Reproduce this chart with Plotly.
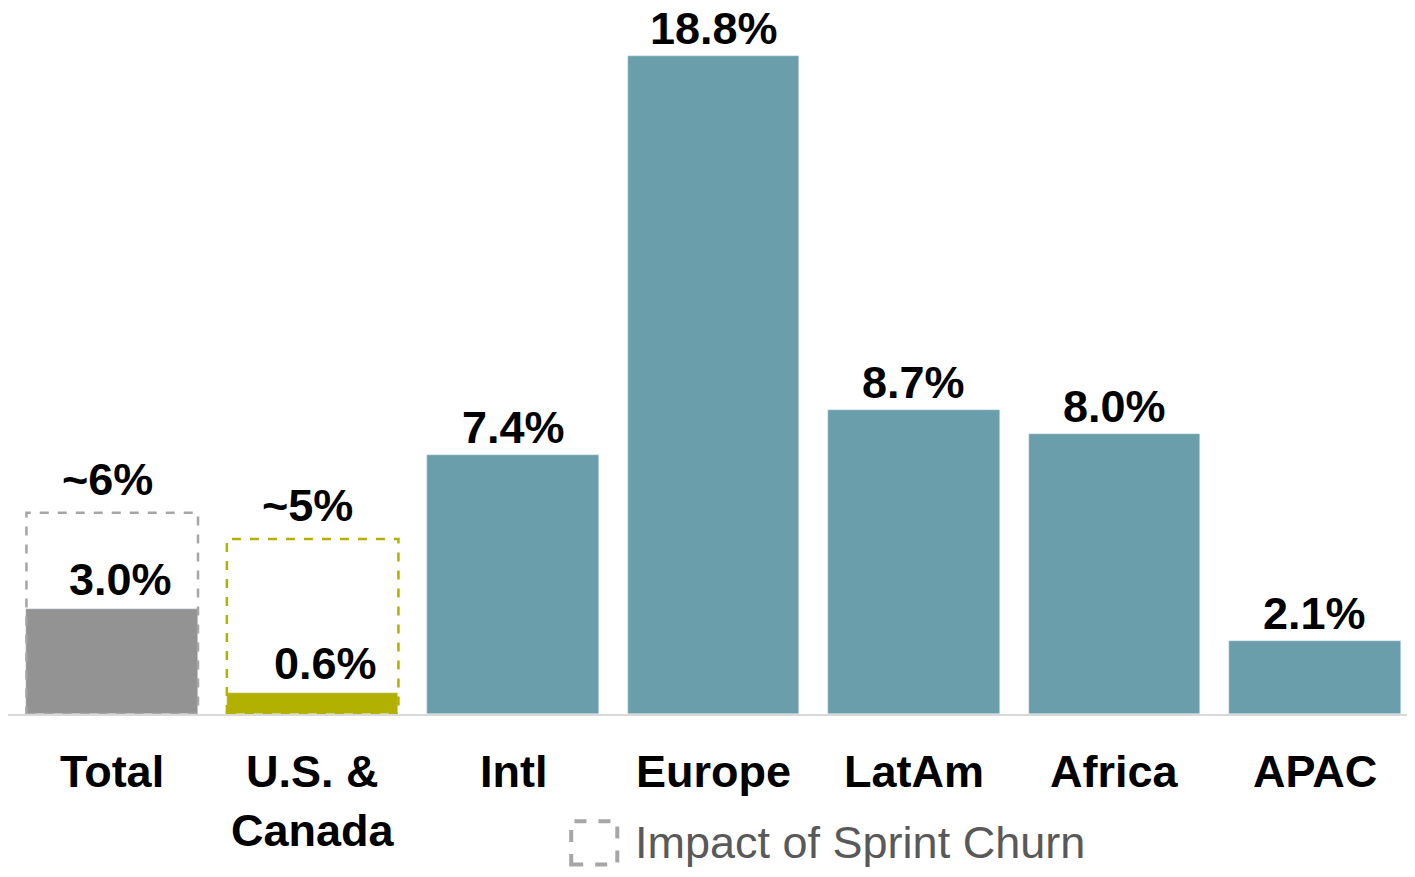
import plotly.graph_objects as go

categories = ["Total", "U.S. &<br>Canada", "Intl", "Europe", "LatAm", "Africa", "APAC"]
values = [3.0, 0.6, 7.4, 18.8, 8.7, 8.0, 2.1]
labels = ["3.0%", "0.6%", "7.4%", "18.8%", "8.7%", "8.0%", "2.1%"]
colors = ["#939393", "#b2b000", "#6a9eab", "#6a9eab", "#6a9eab", "#6a9eab", "#6a9eab"]
sprint_values = [5.75, 5.0]
sprint_labels = ["~6%", "~5%"]
sprint_colors = ["#a6a6a6", "#b2b000"]

xs = list(range(len(categories)))
fig = go.Figure(go.Bar(x=xs, y=values, marker_color=colors, width=0.856, hoverinfo="none"))

font_big = dict(family="Liberation Sans, Arial", size=45, color="black")
ann = []
shapes = []
for i, (v, t) in enumerate(zip(values, labels)):
    xshift = 0
    yshift = 0
    if i == 0:
        xshift, yshift = 8, 2
    if i == 1:
        xshift, yshift = 13, 2
    ann.append(dict(x=i, y=v, text=f"<b>{t}</b>", showarrow=False, yanchor="bottom",
                    xshift=xshift, yshift=yshift, font=font_big))
for i, (v, t, c) in enumerate(zip(sprint_values, sprint_labels, sprint_colors)):
    shapes.append(dict(type="rect", xref="x", yref="y", x0=i - 0.428, x1=i + 0.428, y0=0, y1=v,
                       line=dict(color=c, width=2.5, dash="dash"), layer="above"))
    ann.append(dict(x=i, y=v, text=f"<b>{t}</b>", showarrow=False, yanchor="bottom",
                    xshift=-5, yshift=6, font=font_big))
for i, c in enumerate(categories):
    ann.append(dict(x=i, y=0, text=f"<b>{c}</b>", showarrow=False, yanchor="top",
                    yshift=-30, font=font_big))

# legend entry
shapes.append(dict(type="rect", xref="x", yref="paper", x0=2.29, x1=2.52, y0=-0.213, y1=-0.152,
                   line=dict(color="#a6a6a6", width=4, dash="dash")))
ann.append(dict(x=2.6, y=-0.182, xref="x", yref="paper", text="Impact of Sprint Churn",
                showarrow=False, xanchor="left", yanchor="middle",
                font=dict(family="Liberation Sans, Arial", size=45, color="#595959")))

fig.update_layout(
    width=1415, height=877,
    margin=dict(l=0, r=8, t=0, b=171),
    plot_bgcolor="white", paper_bgcolor="white",
    showlegend=False, bargap=0,
    annotations=ann, shapes=shapes,
    xaxis=dict(range=[-0.52, 6.5], showticklabels=False, showgrid=False, zeroline=False,
               showline=True, linecolor="#d9d9d9", linewidth=2),
    yaxis=dict(range=[0, 20.18], showticklabels=False, showgrid=False, zeroline=False),
)

fig.write_html("out.html")
